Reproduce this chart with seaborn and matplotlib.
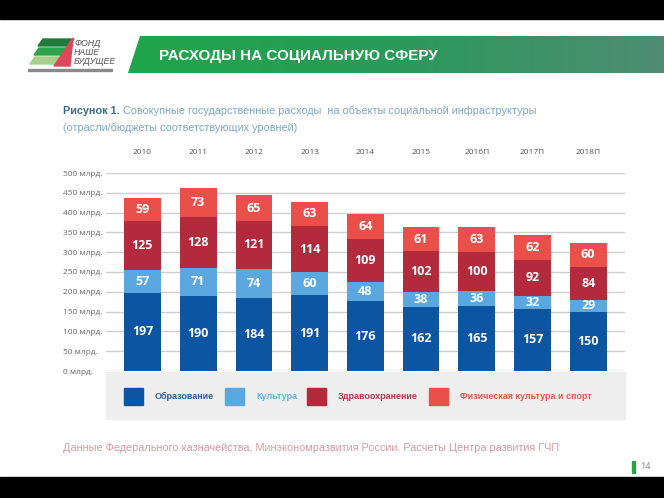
import numpy as np
import pandas as pd
import matplotlib
matplotlib.use("Agg")
import matplotlib.pyplot as plt
import seaborn as sns
from matplotlib.patches import Polygon, Rectangle
from matplotlib.colors import LinearSegmentedColormap

# ---------------- data ----------------
years = ["2010", "2011", "2012", "2013", "2014", "2015", "2016П", "2017П", "2018П"]
education = [197, 190, 184, 191, 176, 162, 165, 157, 150]
culture = [57, 71, 74, 60, 48, 38, 36, 32, 29]
health = [125, 128, 121, 114, 109, 102, 100, 92, 84]
sport = [59, 73, 65, 63, 64, 61, 63, 62, 60]
series_names = ["Образование", "Культура", "Здравоохранение", "Физическая культура и спорт"]
y_ticks = [0, 50, 100, 150, 200, 250, 300, 350, 400, 450, 500]
y_tick_labels = [f"{v} млрд." for v in y_ticks]

colors = ["#0b55a3", "#5aa8df", "#b22a3b", "#ea5049"]
text_colors = ["#2d5f93", "#6aaee0", "#b7384a", "#e0574e"]

df = pd.DataFrame({"year": years, "Образование": education, "Культура": culture,
                   "Здравоохранение": health, "Физическая культура и спорт": sport})

sns.set_theme(style="white")
plt.rcParams["font.family"] = ["Open Sans", "DejaVu Sans"]
LIB = ["Liberation Sans", "DejaVu Sans"]

W, H = 664, 498
fig = plt.figure(figsize=(W / 100, H / 100), dpi=100)
fig.patch.set_facecolor("white")

# overlay axes in pixel coords for decorations
deco = fig.add_axes([0, 0, 1, 1], zorder=0)
deco.set_xlim(0, W)
deco.set_ylim(H, 0)
deco.axis("off")

# black bands
deco.add_patch(Rectangle((0, 0), W, 19, color="black"))
deco.add_patch(Rectangle((0, 477), W, 21, color="black"))

# green header with gradient
hdr = Polygon([(140, 36), (W, 36), (W, 73), (128, 73)], closed=True, facecolor="none", edgecolor="none")
deco.add_patch(hdr)
grad = np.linspace(0, 1, 256).reshape(1, -1)
cmap = LinearSegmentedColormap.from_list("g", ["#1ea64b", "#2a9a5a", "#4f8c74"])
im = deco.imshow(grad, extent=(128, W, 73, 36), cmap=cmap, aspect="auto", zorder=1)
im.set_clip_path(hdr)
deco.text(159, 56, "РАСХОДЫ НА СОЦИАЛЬНУЮ СФЕРУ", color="white", fontsize=11,
          fontweight="bold", family=LIB, va="center", ha="left", zorder=2)

# logo (approximate)
for (y0, c, x0) in [(39, "#1f7a3c", 38), (48, "#2ea34c", 34), (57, "#a8cf8a", 30)]:
    deco.add_patch(Polygon([(x0, y0 + 7), (x0 + 5, y0), (x0 + 36, y0), (x0 + 31, y0 + 7)],
                           closed=True, color=c, zorder=2))
deco.add_patch(Polygon([(54, 66), (73, 38), (70, 66)], closed=True, color="#e0485a", zorder=3))
for txt, yy in [("ФОНД", 43), ("НАШЕ", 52), ("БУДУЩЕЕ", 61)]:
    deco.text(74, yy, txt, fontsize=6.3, color="#555555", style="italic", va="center", ha="left",
              family=LIB)
deco.add_patch(Rectangle((28, 69), 84, 1.5, color="#8a8a8a", zorder=2))

# figure title
TS = 7.8
t1 = deco.text(63, 116, "Рисунок 1.", fontsize=TS, fontweight="bold", color="#3d6a8a",
               ha="left", va="bottom", family=LIB)
deco.annotate(" Совокупные государственные расходы  на объекты социальной инфраструктуры",
              xy=(1, 0), xycoords=t1, fontsize=TS, color="#7ea6c0", ha="left", va="bottom",
              family=LIB)
deco.text(63, 133, "(отрасли/бюджеты соответствующих уровней)", fontsize=TS, color="#7ea6c0",
          ha="left", va="bottom", family=LIB)

# legend background
deco.add_patch(Rectangle((106, 372), 519, 47, color="#eeeeee", zorder=1))
leg_sq_x = [124, 225, 307, 429]
for i, name in enumerate(series_names):
    deco.add_patch(Rectangle((leg_sq_x[i], 388), 19, 17, color=colors[i], zorder=2))
    deco.text(leg_sq_x[i] + 31, 396.5, name, fontsize=6.5, color=text_colors[i],
              fontweight="bold", ha="left", va="center", zorder=3, family=LIB)

# source
deco.text(63, 448, "Данные Федерального казначейства, Минэкономразвития России. Расчеты Центра развития ГЧП",
          fontsize=7.8, color="#d69aa2", ha="left", va="center", family=LIB)
deco.add_patch(Rectangle((632, 461), 3, 12, color="#2aa24a"))
deco.text(640, 466, "14", fontsize=6.5, color="#888888", ha="left", va="center")

# ---------------- main chart ----------------
ax_left, ax_right = 106 / W, 625 / W
ax_bottom, ax_top = (H - 371) / H, (H - 173) / H
ax = fig.add_axes([ax_left, ax_bottom, ax_right - ax_left, ax_top - ax_bottom], zorder=2)
ax.patch.set_alpha(0)

bottom = np.zeros(len(years))
for i, name in enumerate(series_names):
    vals = np.array(df[name], dtype=float)
    sns.barplot(x=df["year"], y=vals, bottom=bottom, color=colors[i], width=0.66,
                ax=ax, saturation=1, linewidth=0, zorder=3)
    for j, v in enumerate(vals):
        ax.text(j, bottom[j] + v / 2, f"{int(v)}", ha="center", va="center", color="white",
                fontsize=9, fontweight="bold", zorder=4)
    bottom += vals

ax.set_xlim(-0.655, len(years) - 1 + 0.66)
ax.set_ylim(0, 500)
ax.set_yticks(y_ticks)
ax.set_yticklabels(y_tick_labels, fontsize=6, color="#666666", ha="left")
ax.tick_params(axis="y", length=0, pad=31)
ax.xaxis.tick_top()
ax.set_xticks(range(len(years)))
ax.set_xticklabels(years, fontsize=6, color="#555555")
ax.tick_params(axis="x", length=0, pad=12)
ax.set_xlabel("")
ax.set_ylabel("")
for s in ax.spines.values():
    s.set_visible(False)
ax.yaxis.grid(True, color="#cfcfcf", linewidth=1)
ax.set_axisbelow(True)

fig.savefig("out.png", dpi=100)
